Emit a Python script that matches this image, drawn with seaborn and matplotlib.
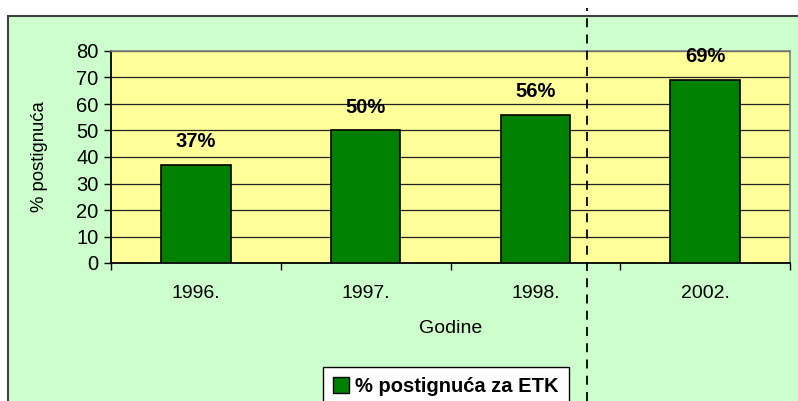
import matplotlib
matplotlib.use('Agg')
import matplotlib.pyplot as plt
import seaborn as sns
import pandas as pd
from matplotlib.patches import Rectangle, Patch
from matplotlib.lines import Line2D

years = ['1996.', '1997.', '1998.', '2002.']
values = [37, 50, 56, 69]
series_name = '% postignuća za ETK'

sns.set_style('white')
plt.rcParams['font.family'] = ['Liberation Sans', 'DejaVu Sans']
plt.rcParams['text.color'] = 'black'
plt.rcParams['axes.labelcolor'] = 'black'
plt.rcParams['xtick.color'] = 'black'
plt.rcParams['ytick.color'] = 'black'

df = pd.DataFrame({'Godine': years, 'pct': values})

fig = plt.figure(figsize=(7.98, 4.01), dpi=100)
fig.patch.set_facecolor('white')

# green chart area
fig.patches.append(Rectangle((8 / 798, -0.05), 1.0, 1 - 16 / 401 + 0.05,
                             transform=fig.transFigure, facecolor='#CCFFCC',
                             edgecolor='#404040', linewidth=1.5, zorder=-1))

ax = fig.add_axes([111 / 798, 1 - 263 / 401, 679 / 798, 212 / 401])
ax.set_zorder(1)
ax.set_facecolor('#FFFF99')

sns.barplot(data=df, x='Godine', y='pct', color='#008000', edgecolor='black',
            linewidth=1.2, width=0.41, saturation=1, ax=ax, zorder=3)

ax.set_ylim(0, 80)
ax.set_xlim(-0.5, 3.5)
ax.set_yticks(range(0, 81, 10))
ax.yaxis.grid(True, color='#222222', linewidth=0.9, zorder=1)
ax.set_axisbelow(True)

# category boundaries as major ticks, labels on minor ticks
ax.set_xticks([-0.5, 0.5, 1.5, 2.5, 3.5])
ax.set_xticklabels([])
ax.set_xticks(range(len(years)), minor=True)
ax.set_xticklabels(years, minor=True, fontsize=14)
ax.tick_params(axis='x', which='major', direction='out', length=5, width=1, color='black', bottom=True)
ax.tick_params(axis='x', which='minor', length=0, pad=16)
ax.tick_params(axis='y', direction='out', length=5, width=1, color='black', left=True, labelsize=14.5, pad=4)

for s in ['left', 'bottom']:
    ax.spines[s].set_color('black')
    ax.spines[s].set_linewidth(1.3)
for s in ['top', 'right']:
    ax.spines[s].set_color('#808080')
    ax.spines[s].set_linewidth(1.2)

ax.set_xlabel('Godine', fontsize=14)
ax.xaxis.set_label_coords(0.5, -0.31)
ax.xaxis.label.set_va('center')
ax.set_ylabel('% postignuća', fontsize=13.3)
ax.yaxis.set_label_coords(-0.105, 0.5)
ax.yaxis.label.set_va('center')

for c in ax.containers:
    ax.bar_label(c, labels=[f'{v}%' for v in values], padding=10,
                 fontsize=14.5, fontweight='bold')

# dashed separator line
fig.lines.append(Line2D([587 / 798, 587 / 798], [0, 1 - 8 / 401], transform=fig.transFigure,
                        color='black', linestyle=(0, (5, 4)), linewidth=1.3, zorder=10))

handle = Patch(facecolor='#008000', edgecolor='black', linewidth=1)
leg = fig.legend([handle], [series_name], loc='upper left',
                 bbox_to_anchor=(323 / 798, 1 - 367 / 401),
                 bbox_transform=fig.transFigure, frameon=True, fancybox=False,
                 prop={'weight': 'bold', 'size': 14.5}, handlelength=0.8, handleheight=0.8,
                 handletextpad=0.3, borderpad=0.5, borderaxespad=0)
leg.set_zorder(5)
leg.get_frame().set_edgecolor('black')
leg.get_frame().set_linewidth(1)
leg.get_frame().set_facecolor('white')
leg.get_frame().set_alpha(1)

fig.savefig('out.png', dpi=100)
